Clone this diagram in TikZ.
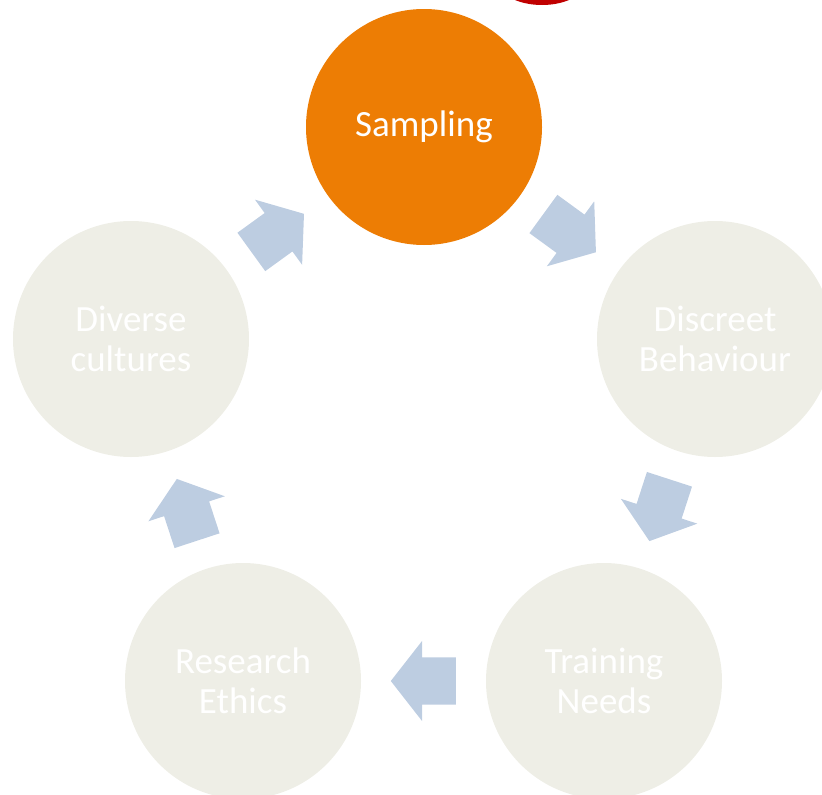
\documentclass[tikz,border=0pt]{standalone}
\usepackage{fontspec}
\setmainfont{Carlito}
\usepackage{tikz}
\usetikzlibrary{calc, shapes.arrows}
\definecolor{sampleorange}{HTML}{ED7D04}
\definecolor{topicgrey}{HTML}{EEEEE6}
\definecolor{flowblue}{HTML}{BDCDE1}
\definecolor{markred}{HTML}{C00000}
\tikzstyle{topic} = [circle,minimum size=236pt,inner sep=0pt,align=center,text=white,fill=topicgrey,font=\fontsize{37}{40}\selectfont]
\tikzstyle{flow}  = [single arrow,fill=flowblue,inner xsep=0pt,inner ysep=23.5pt,minimum height=65pt,single arrow head extend=16.5pt,single arrow tip angle=104,sloped,allow upside down,anchor=tail]

\begin{document}
\begin{tikzpicture}[x=1pt,y=1pt]
  \useasboundingbox (0,0) rectangle (822,-795);

  %red mark cut off at the top
  \fill[markred] (542,20) ellipse [x radius=45, y radius=25];

  %the five topics round the cycle
  \node[topic,fill=sampleorange] (samp)   at (424,-127) {Sampling};
  \node[topic] (disc)   at (715,-339) {Discreet\\Behaviour};
  \node[topic] (train)  at (604,-681) {Training\\Needs};
  \node[topic] (ethics) at (243,-681) {Research\\Ethics};
  \node[topic] (div)    at (131,-339) {Diverse\\cultures};

  %block arrows half way between neighbours
  \foreach \a/\b in {samp/disc, disc/train, train/ethics, ethics/div, div/samp}{
    \coordinate (t\a) at ($(\a.center)!0.5!(\b.center)!32.5pt!(\a.center)$);
    \path (t\a) -- (\b.center) node[flow,pos=0] (f\a) {};
  }
\end{tikzpicture}
\end{document}
